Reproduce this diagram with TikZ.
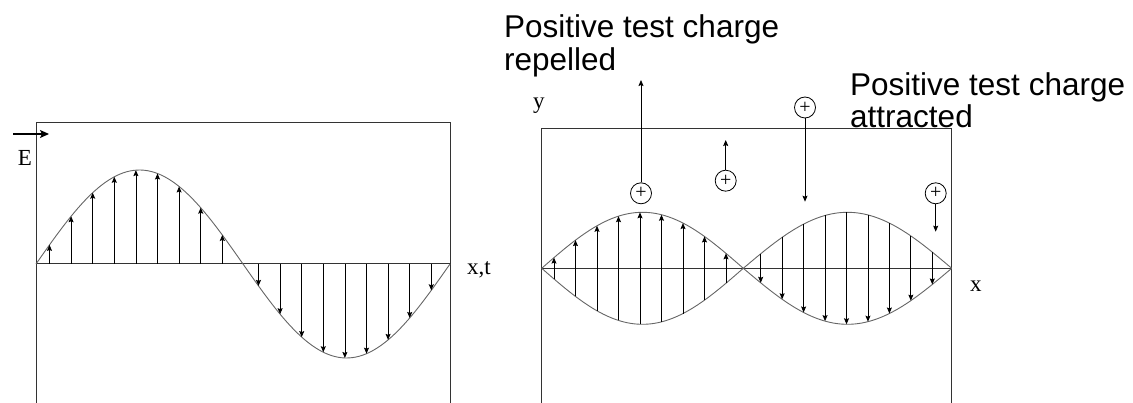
\documentclass[tikz,border=0pt]{standalone}
\usepackage{fontspec}
\setmainfont{Liberation Serif}
\newfontfamily\arialfont{Liberation Sans}
\usetikzlibrary{arrows.meta,positioning}

\begin{document}
\begin{tikzpicture}[
  x=1pt, y=-1pt,
  frame/.style={draw=black!80, line width=1pt},
  wave/.style={draw=black!60, line width=0.9pt},
  fieldarr/.style={-{Stealth[length=6pt, width=5pt, inset=1pt]}, line width=0.8pt, black},
  vecarr/.style={-{Stealth[length=9pt, width=8pt, inset=2pt]}, line width=1.4pt, black},
  charge/.style={circle, draw=black, line width=0.8pt, minimum size=21pt, inner sep=0pt,
                 font=\fontsize{20}{20}\selectfont},
  axlbl/.style={inner sep=0pt, font=\fontsize{23}{23}\selectfont},
  note/.style={inner sep=0pt, align=left, font=\arialfont\fontsize{31.5}{31.5}\selectfont}
]
\useasboundingbox (0,0) rectangle (1133,403);

% Left panel: travelling wave E(x,t)
\draw[frame] (36,403) -- (36,123) -- (450,123) -- (450,403);
\draw[frame] (36,264) -- (450,264);
\draw[wave, domain=36:450, samples=120] plot (\x, {264-94*sin((\x-36)*0.869565)});
\foreach \i in {0,...,8} {
  \pgfmathsetmacro\xa{49.5+21.6*\i}
  \pgfmathsetmacro\xb{258.5+21.6*\i}
  \draw[fieldarr] (\xa,264) -- (\xa,{264-94*sin((\xa-36)*0.869565)});
  \draw[fieldarr] (\xb,264) -- (\xb,{264-94*sin((\xb-36)*0.869565)});
}

% E vector label
\node[axlbl] (elbl) at (25,158) {E};
\coordinate (etail) at (13,134);
\coordinate (ehead) at (49,134);
\draw[vecarr] (etail) -- (ehead);
\node[axlbl, anchor=base west] (xtlbl) at (467,275) {x,t};

% Right panel: standing wave
\draw[frame] (541.7,403) -- (541.7,128.3) -- (951.7,128.3) -- (951.7,403);
\draw[frame] (541.7,268.3) -- (951.7,268.3);
\draw[wave, domain=541.7:743.3, samples=80] plot (\x, {268.3-56*sin((\x-541.7)*0.892857)});
\draw[wave, domain=541.7:743.3, samples=80] plot (\x, {268.3+56*sin((\x-541.7)*0.892857)});
\draw[wave, domain=743.3:951.7, samples=80] plot (\x, {268.3-56*sin((\x-743.3)*0.863724)});
\draw[wave, domain=743.3:951.7, samples=80] plot (\x, {268.3+56*sin((\x-743.3)*0.863724)});
\foreach \i in {0,...,8} {
  \pgfmathsetmacro\xa{554+21.5*\i}
  \pgfmathsetmacro\ya{56*sin((\xa-541.7)*0.892857)}
  \pgfmathsetmacro\xb{760.7+21.45*\i}
  \pgfmathsetmacro\yb{56*sin((\xb-743.3)*0.863724)}
  \draw[fieldarr] (\xa,268.3+\ya) -- (\xa,268.3-\ya);
  \draw[fieldarr] (\xb,268.3-\yb) -- (\xb,268.3+\yb);
}
\node[axlbl, anchor=base west] (ylbl) at (533,108.3) {y};
\node[axlbl, anchor=base west] (xlbl) at (970,292) {x};

% Test charges
\node[charge] (c1) at (641,193.3) {+};
\node[charge] (c2) at (725.7,180.7) {+};
\node[charge] (c3) at (805,107.5) {+};
\node[charge] (c4) at (935.7,193.3) {+};
\coordinate (c1end) at (641,80);
\coordinate (c2end) at (725.7,140);
\coordinate (c3end) at (805,201.7);
\coordinate (c4end) at (935.7,231.7);
\draw[fieldarr] (c1) -- (c1end);
\draw[fieldarr] (c2) -- (c2end);
\draw[fieldarr] (c3) -- (c3end);
\draw[fieldarr] (c4) -- (c4end);

% Notes
\node[note, anchor=north west] (repel) at (504,14.3) {Positive test charge\\[2pt]repelled};
\node[note, anchor=north west] (attr) at (850,72.3) {Positive test charge\\[0.5pt]attracted};
\end{tikzpicture}
\end{document}
